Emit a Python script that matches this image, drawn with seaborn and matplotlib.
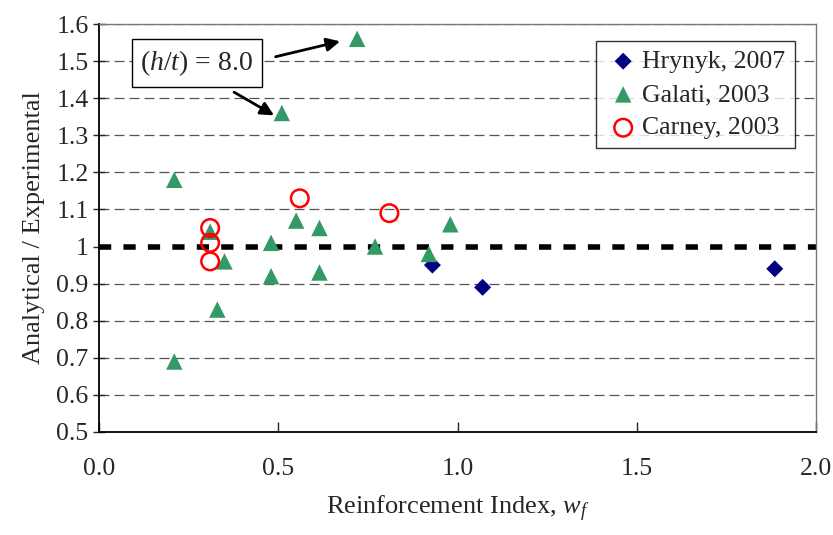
import numpy as np
import pandas as pd
import seaborn as sns
import matplotlib.pyplot as plt

# data
hrynyk_x = [0.93, 1.07, 1.885]
hrynyk_y = [0.95, 0.89, 0.94]

galati_x = [0.21, 0.21, 0.31, 0.35, 0.33, 0.48, 0.48, 0.55, 0.615, 0.615, 0.51, 0.72, 0.77, 0.92, 0.98]
galati_y = [1.18, 0.69, 1.04, 0.96, 0.83, 1.01, 0.92, 1.07, 1.05, 0.93, 1.36, 1.56, 1.00, 0.98, 1.06]

carney_x = [0.31, 0.31, 0.31, 0.56, 0.81]
carney_y = [1.05, 1.01, 0.96, 1.13, 1.09]

sns.set_style("white")
plt.rcParams['font.family'] = ['Liberation Serif', 'DejaVu Serif']
plt.rcParams['mathtext.fontset'] = 'custom'
plt.rcParams['mathtext.it'] = 'Liberation Serif:italic'
plt.rcParams['mathtext.rm'] = 'Liberation Serif'

fig = plt.figure(figsize=(8.33, 5.35), dpi=100)
ax = fig.add_axes([99/833, 1 - 432/535, (816-99)/833, (432-24)/535])

for yv in np.arange(0.6, 1.61, 0.1):
    if abs(yv - 1.0) > 1e-6:
        ax.axhline(yv, color='#555555', lw=0.9, ls=(0, (8, 4)), zorder=0)
ax.axhline(1.0, color='black', lw=4, ls=(0, (2.2, 2.2)), zorder=1)

sns.scatterplot(x=hrynyk_x, y=hrynyk_y, ax=ax, marker='D', s=75, color='#000080',
                edgecolor='none', label='Hrynyk, 2007', zorder=3)
sns.scatterplot(x=galati_x, y=galati_y, ax=ax, marker='^', s=140, color='#339966',
                edgecolor='none', label='Galati, 2003', zorder=3)
sns.scatterplot(x=carney_x, y=carney_y, ax=ax, marker='o', s=160, facecolor='none',
                edgecolor='red', linewidth=1.8, label='Carney, 2003', zorder=4)

ax.set_xlim(0, 2)
ax.set_ylim(0.5, 1.6)
ax.set_xticks([0, 0.5, 1.0, 1.5, 2.0])
ax.set_xticklabels(['0.0', '0.5', '1.0', '1.5', '2.0'])
ax.set_yticks(np.round(np.arange(0.5, 1.61, 0.1), 1))
ax.set_yticklabels(['0.5', '0.6', '0.7', '0.8', '0.9', '1', '1.1', '1.2', '1.3', '1.4', '1.5', '1.6'])
ax.tick_params(axis='y', direction='inout', length=9, width=1, labelsize=18.5, pad=3)
ax.tick_params(axis='x', direction='in', length=7, width=1, labelsize=18.5, pad=19)
ax.tick_params(left=True, bottom=True)

for side in ['left', 'bottom']:
    ax.spines[side].set_color('black')
    ax.spines[side].set_linewidth(1.3)
for side in ['top', 'right']:
    ax.spines[side].set_color('#777777')
    ax.spines[side].set_linewidth(1.0)

ax.set_xlabel('Reinforcement Index, $w_f$', fontsize=19, labelpad=10)
ax.set_ylabel('Analytical / Experimental', fontsize=19, labelpad=8)

leg = ax.legend(loc='upper right', fontsize=18.5, frameon=True, fancybox=False,
                edgecolor='black', handletextpad=0.05, borderpad=0.35,
                labelspacing=0.4, handlelength=1.4, bbox_to_anchor=(0.988, 0.99))
leg.get_frame().set_linewidth(1.0)

ax.text(0.273, 1.495, '$(h/t)$ = 8.0', fontsize=20, ha='center', va='center',
        bbox=dict(boxstyle='square,pad=0.32', facecolor='white', edgecolor='black', lw=1))
ax.annotate('', xy=(0.68, 1.555), xytext=(0.485, 1.51),
            arrowprops=dict(arrowstyle='-|>', color='black', lw=2, mutation_scale=20))
ax.annotate('', xy=(0.495, 1.35), xytext=(0.37, 1.42),
            arrowprops=dict(arrowstyle='-|>', color='black', lw=2, mutation_scale=20))

fig.savefig('out.png', dpi=100)
